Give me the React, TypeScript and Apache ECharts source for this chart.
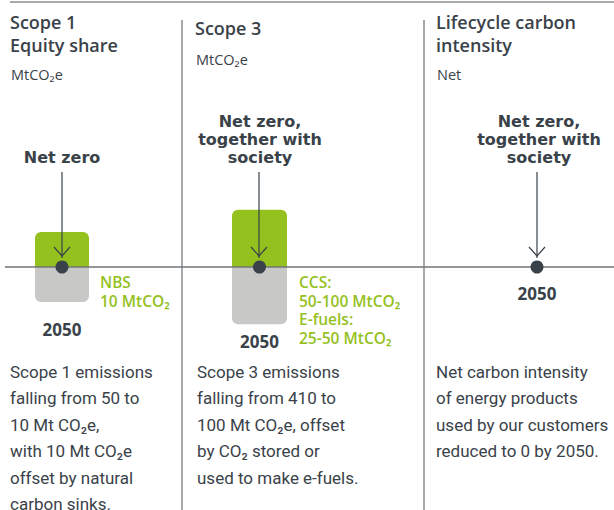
import React, { useEffect, useRef } from "react";
import * as echarts from "echarts";

// ---- data ----
const categories = ["2050"];
const panelTitles = ["Scope 1\nEquity share", "Scope 3", "Lifecycle carbon\nintensity"];
const panelUnits = ["MtCO₂e", "MtCO₂e", "Net"];
const targetLabels = ["Net zero", "Net zero,\ntogether with\nsociety", "Net zero,\ntogether with\nsociety"];
const residualEmissions = [10, 100, 0]; // remaining emissions in 2050 (green)
const offsetEmissions = [-10, -100, 0]; // offsets in 2050 (grey)
const offsetNotes = [["NBS", "10 MtCO₂"], ["CCS:", "50-100 MtCO₂", "E-fuels:", "25-50 MtCO₂"], []];
const descriptions = [
  "Scope 1 emissions\nfalling from 50 to\n10 Mt CO₂e,\nwith 10 Mt CO₂e\noffset by natural\ncarbon sinks.",
  "Scope 3 emissions\nfalling from 410 to\n100 Mt CO₂e, offset\nby CO₂ stored or\nused to make e-fuels.",
  "Net carbon intensity\nof energy products\nused by our customers\nreduced to 0 by 2050.",
];

// ---- layout / style ----
const DARK = "#3a4249";
const GREEN = "#95c11f";
const GREY_BLOCK = "#c8c9c7";
const RULE = "#8a8e91";
const AXIS_Y = 267;
const HEAD = "Open Sans";
const WIDE_BOLD = "DejaVu Sans";
const BODY = "Roboto";

const layout = [
  { grid: { left: 35, width: 54, top: 197, height: 140 }, yMax: 20, cx: 62, tx: 10, titleY: 22, unitY: 74, yearCy: 329, noteX: 100, targetTop: 157 },
  { grid: { left: 232, width: 55, top: 167, height: 200 }, yMax: 175, cx: 259, tx: 195, titleY: 28, unitY: 59, yearCy: 341, noteX: 299, targetTop: 121 },
  { grid: { left: 510, width: 54, top: 167, height: 200 }, yMax: 1, cx: 537, tx: 436, titleY: 22, unitY: 74, yearCy: 293, noteX: 0, targetTop: 121 },
];
const descX = [10, 197, 436];
const targetCx = [62, 260, 539];

export default function App() {
  const ref = useRef<HTMLDivElement>(null);
  useEffect(() => {
    if (!ref.current) return;
    const chart = echarts.init(ref.current, null, { renderer: "svg" });

    const grids: any[] = [];
    const xAxes: any[] = [];
    const yAxes: any[] = [];
    const series: any[] = [];
    const graphics: any[] = [];

    // frame rules
    graphics.push({ type: "line", z: 1, shape: { x1: 10, y1: 2, x2: 614, y2: 2 }, style: { stroke: RULE, lineWidth: 1.5 } });
    graphics.push({ type: "line", z: 1, shape: { x1: 182, y1: 20, x2: 182, y2: 510 }, style: { stroke: RULE, lineWidth: 1.5 } });
    graphics.push({ type: "line", z: 1, shape: { x1: 424, y1: 20, x2: 424, y2: 510 }, style: { stroke: RULE, lineWidth: 1.5 } });
    graphics.push({ type: "line", z: 10, shape: { x1: 5, y1: AXIS_Y, x2: 614, y2: AXIS_Y }, style: { stroke: "#6f7478", lineWidth: 1.5 } });

    layout.forEach((L, i) => {
      grids.push({ ...L.grid });
      const gridBottom = L.grid.top + L.grid.height;
      xAxes.push({
        type: "category",
        gridIndex: i,
        data: categories,
        axisLine: { show: false },
        axisTick: { show: false },
        axisLabel: {
          margin: L.yearCy - 8.5 - gridBottom,
          color: DARK, fontFamily: HEAD, fontWeight: "bold", fontSize: 17, lineHeight: 17, verticalAlign: "top",
        },
      });
      yAxes.push({ type: "value", gridIndex: i, min: -L.yMax, max: L.yMax, axisLine: { show: false }, axisLabel: { show: false }, axisTick: { show: false }, splitLine: { show: false } });
      series.push({
        type: "bar", xAxisIndex: i, yAxisIndex: i, data: [residualEmissions[i]], barWidth: L.grid.width, barGap: "-100%",
        itemStyle: { color: GREEN, borderRadius: [6, 6, 0, 0] }, z: 2,
      });
      series.push({
        type: "bar", xAxisIndex: i, yAxisIndex: i, data: [offsetEmissions[i]], barWidth: L.grid.width, barGap: "-100%",
        itemStyle: { color: GREY_BLOCK, borderRadius: [0, 0, 6, 6] }, z: 2,
      });
      series.push({
        type: "scatter", xAxisIndex: i, yAxisIndex: i, data: [[categories[0], 0]], symbolSize: 13,
        itemStyle: { color: DARK, opacity: 1 }, z: 20,
      });

      // titles
      graphics.push({ type: "text", z: 5, x: L.tx, y: L.titleY - 12, style: { text: panelTitles[i], fontFamily: HEAD, fontSize: 18, fontWeight: 600, fill: DARK, lineHeight: 23, align: "left", verticalAlign: "top" } });
      graphics.push({ type: "text", z: 5, x: L.tx + 1, y: L.unitY - 9, style: { text: panelUnits[i], fontFamily: HEAD, fontSize: 14.5, fill: DARK, lineHeight: 18, align: "left", verticalAlign: "top" } });
      // target labels
      const tl = targetLabels[i].split("\n").length;
      graphics.push({ type: "text", z: 5, x: targetCx[i], y: L.targetTop - 9, style: { text: targetLabels[i], fontFamily: WIDE_BOLD, fontSize: 16, fontWeight: "bold", fill: DARK, lineHeight: 18, align: "center", verticalAlign: "top" } });
      const shaftTop = L.targetTop + (tl - 1) * 18 + 15;
      graphics.push({ type: "line", z: 10, shape: { x1: L.cx, y1: shaftTop, x2: L.cx, y2: 258 }, style: { stroke: DARK, lineWidth: 1.2 } });
      graphics.push({ type: "polyline", z: 10, shape: { points: [[L.cx - 8, 247], [L.cx, 256], [L.cx + 8, 247]] }, style: { stroke: DARK, lineWidth: 1.2, fill: "none" } });
      // offset notes, one text per line
      offsetNotes[i].forEach((line, k) => {
        graphics.push({ type: "text", z: 5, x: L.noteX, y: 282 + k * 18.6, style: { text: line, fontFamily: HEAD, fontSize: 15.5, fontWeight: 600, fill: GREEN, align: "left", verticalAlign: "middle" } });
      });
      // descriptions
      graphics.push({ type: "text", z: 5, x: descX[i], y: 372 - 13.2, style: { text: descriptions[i], fontFamily: BODY, fontSize: 17, fill: DARK, lineHeight: 26.4, align: "left", verticalAlign: "top" } });
    });

    chart.setOption({
      animation: false,
      grid: grids,
      xAxis: xAxes,
      yAxis: yAxes,
      series,
      graphic: graphics,
    });
    return () => chart.dispose();
  }, []);
  return <div ref={ref} style={{ position: "fixed", left: 0, top: 0, width: 614, height: 510, background: "#fff" }} />;
}
